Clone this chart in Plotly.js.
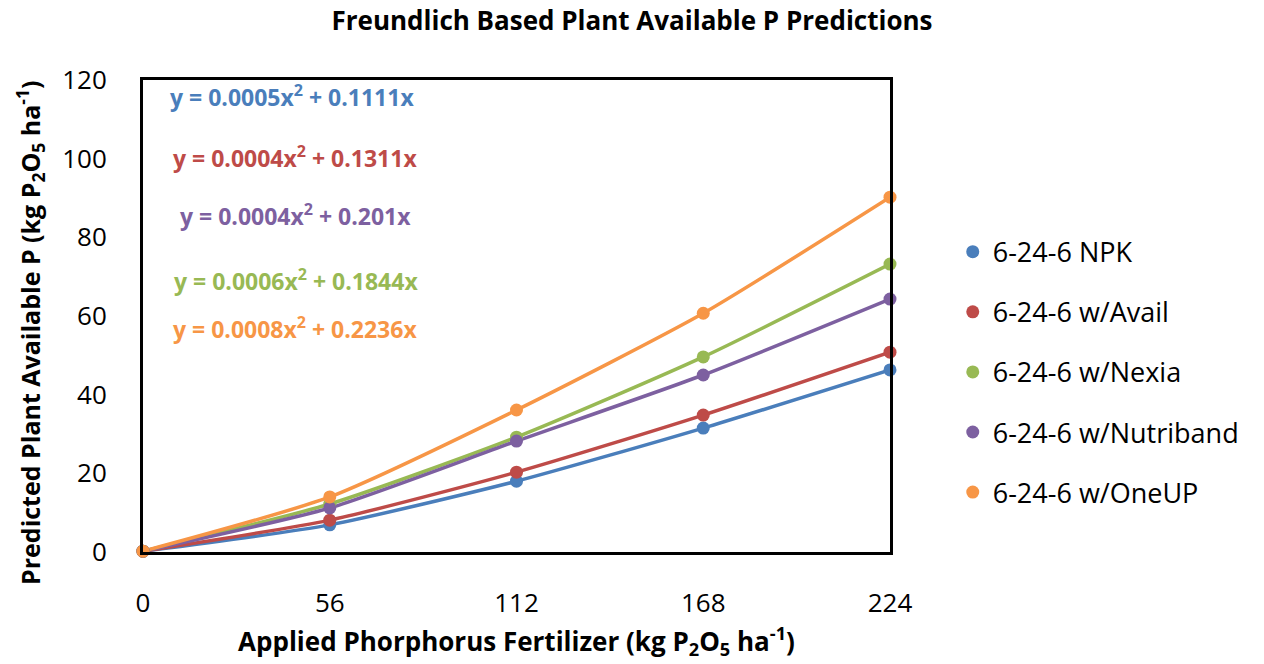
<!DOCTYPE html>
<html>
<head>
<meta charset="utf-8">
<script src="https://cdn.plot.ly/plotly-3.0.1.min.js"></script>
<style>html,body{margin:0;padding:0;background:#fff;}#chart{width:1264px;height:664px;}</style>
</head>
<body>
<div id="chart"></div>
<script>
const xRates = [0, 56, 112, 168, 224];
const seriesNames = ["6-24-6 NPK", "6-24-6 w/Avail", "6-24-6 w/Nexia", "6-24-6 w/Nutriband", "6-24-6 w/OneUP"];
const npk      = [0.2, 6.9, 18.0, 31.5, 46.3];
const avail    = [0.2, 8.1, 20.3, 34.8, 50.8];
const nexia    = [0.2, 12.2, 29.2, 49.6, 73.2];
const nutriband= [0.2, 11.2, 28.2, 45.0, 64.3];
const oneup    = [0.2, 14.0, 36.1, 60.7, 90.2];
const colors = ["#4a7ebb", "#be4b48", "#98b954", "#7d60a0", "#f79646"];
const equations = [
  "y = 0.0005x<sup>2</sup> + 0.1111x",
  "y = 0.0004x<sup>2</sup> + 0.1311x",
  "y = 0.0006x<sup>2</sup> + 0.1844x",
  "y = 0.0004x<sup>2</sup> + 0.201x",
  "y = 0.0008x<sup>2</sup> + 0.2236x"
];
const eqY = [96, 157, 280, 215, 328]; // pixel rows of the equation labels
const eqX = [292, 295, 296, 295, 295];

const allY = [npk, avail, nexia, nutriband, oneup];
const font = "Open Sans, Noto Sans, Liberation Sans, sans-serif";

const lineTraces = allY.map((ys, i) => ({
  x: xRates, y: ys, name: seriesNames[i], type: "scatter", mode: "lines",
  line: {color: colors[i], width: 3.5, shape: "spline", smoothing: 0.6},
  showlegend: false, cliponaxis: false
}));
const markerTraces = allY.map((ys, i) => ({
  x: xRates, y: ys, name: seriesNames[i], type: "scatter", mode: "markers",
  marker: {color: colors[i], size: 13},
  legendgroup: "g" + i, cliponaxis: false
}));

const L = 143, R = 890, T = 80, B = 552;
const annotations = equations.map((t, i) => ({
  text: t, xref: "paper", yref: "paper",
  x: (eqX[i] - L) / (R - L), y: (B - eqY[i]) / (B - T),
  xanchor: "center", yanchor: "middle", showarrow: false,
  font: {family: font, size: 23, color: colors[i], weight: "bold"}
}));
annotations.push({
  text: "<b>Predicted Plant Available P (kg P<sub>2</sub>O<sub>5</sub> ha<sup>-1</sup>)</b>",
  xref: "paper", yref: "paper", x: (30 - L) / (R - L), y: (B - 333) / (B - T),
  xanchor: "center", yanchor: "middle", textangle: -90, showarrow: false,
  font: {family: font, size: 25, color: "#000"}
});

const layout = {
  width: 1264, height: 664,
  margin: {l: L, r: 1264 - R, t: T, b: 664 - B},
  paper_bgcolor: "#fff", plot_bgcolor: "#fff",
  title: {text: "<b>Freundlich Based Plant Available P Predictions</b>", x: 0.5, xanchor: "center", y: 0.968, yanchor: "middle",
          font: {family: font, size: 26, color: "#000"}},
  xaxis: {range: [0, 224], tickvals: xRates, ticktext: xRates.map(String), showgrid: false, zeroline: false,
          showline: true, mirror: true, linecolor: "#000", linewidth: 3, ticks: "", ticklabelstandoff: 26,
          tickfont: {family: font, size: 26, color: "#000"},
          title: {text: "<b>Applied Phorphorus Fertilizer (kg P<sub>2</sub>O<sub>5</sub> ha<sup>-1</sup>)</b>", standoff: 14,
                  font: {family: font, size: 26, color: "#000"}}},
  yaxis: {range: [0, 120], dtick: 20, showgrid: false, zeroline: false,
          showline: true, mirror: true, linecolor: "#000", linewidth: 3, ticks: "", ticklabelstandoff: 28,
          tickfont: {family: font, size: 26, color: "#000"}},
  legend: {x: 1.084, xanchor: "left", y: 0.381, yanchor: "middle", traceorder: "grouped", tracegroupgap: 22,
           font: {family: font, size: 27, color: "#000"}, itemwidth: 30},
  annotations: annotations,
  showlegend: true
};

Plotly.newPlot("chart", lineTraces.concat(markerTraces), layout, {displayModeBar: false, staticPlot: true});
</script>
</body>
</html>
